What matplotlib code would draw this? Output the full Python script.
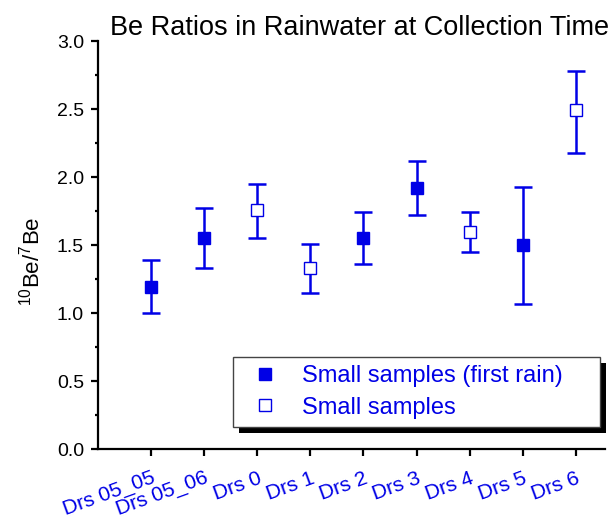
import numpy as np
import matplotlib
matplotlib.use("Agg")
import matplotlib.pyplot as plt
import matplotlib.patheffects as pe
from matplotlib.ticker import MultipleLocator, FormatStrFormatter

plt.rcParams['font.family'] = ['Liberation Sans', 'DejaVu Sans']
plt.rcParams['mathtext.fontset'] = 'custom'
plt.rcParams['mathtext.rm'] = 'Liberation Sans'

# Data
labels = ["Drs 05_05", "Drs 05_06", "Drs 0", "Drs 1", "Drs 2",
          "Drs 3", "Drs 4", "Drs 5", "Drs 6"]
ratio = [1.19, 1.555, 1.755, 1.33, 1.555, 1.92, 1.595, 1.50, 2.49]
err_low = [1.0, 1.33, 1.55, 1.145, 1.36, 1.72, 1.445, 1.065, 2.18]
err_high = [1.39, 1.775, 1.945, 1.505, 1.74, 2.12, 1.74, 1.925, 2.78]
first_rain = [True, True, False, False, True, True, False, True, False]

blue = "#0000e6"

fig = plt.figure(figsize=(6.14, 5.24), dpi=100)
ax = fig.add_axes([98 / 614, 75 / 524, 507 / 614, 408 / 524])

x = np.arange(1, len(labels) + 1)
ratio = np.array(ratio)
lo = ratio - np.array(err_low)
hi = np.array(err_high) - ratio
mask = np.array(first_rain)

ax.errorbar(x, ratio, yerr=[lo, hi], fmt="none", ecolor=blue,
            elinewidth=1.8, capsize=6.5, capthick=1.8, zorder=2)
ax.plot(x[mask], ratio[mask], "s", color=blue, markersize=8,
        markeredgecolor=blue, linestyle="none", zorder=3,
        label="Small samples (first rain)")
ax.plot(x[~mask], ratio[~mask], "s", markerfacecolor="white", markersize=8,
        markeredgecolor=blue, markeredgewidth=1.0, linestyle="none", zorder=3,
        label="Small samples")

ax.set_xlim(0, 9.55)
ax.set_ylim(0, 3.0)
ax.yaxis.set_major_locator(MultipleLocator(0.5))
ax.yaxis.set_minor_locator(MultipleLocator(0.25))
ax.yaxis.set_major_formatter(FormatStrFormatter("%.1f"))
ax.set_xticks(x)
ax.set_xticklabels(labels, rotation=20, ha="right", rotation_mode="anchor",
                   color=blue, fontsize=15)

for s in ["top", "right"]:
    ax.spines[s].set_visible(False)
for s in ["left", "bottom"]:
    ax.spines[s].set_linewidth(1.6)

ax.tick_params(axis="y", which="major", length=5, width=1.6, labelsize=14, pad=5)
ax.tick_params(axis="y", which="minor", length=2.5, width=1.6)
ax.tick_params(axis="x", which="major", length=5, width=1.6, pad=9)

ax.set_ylabel(r"$^{10}$Be/$^{7}$Be", fontsize=16)
ax.yaxis.set_label_coords(-0.105, 0.46)
ax.set_title("Be Ratios in Rainwater at Collection Time", fontsize=19.5,
             pad=2, x=0.515)

leg = ax.legend(loc="upper left",
                bbox_to_anchor=(233 / 614, 1 - 428 / 524, 367 / 614, 71 / 524),
                bbox_transform=fig.transFigure, mode="expand",
                fontsize=17, frameon=True, fancybox=False,
                handletextpad=0.57, borderpad=0.35, labelspacing=0.4,
                borderaxespad=0, handlelength=2.0, markerscale=1.1)
for t in leg.get_texts():
    t.set_color(blue)
frame = leg.get_frame()
frame.set_edgecolor("#444444")
frame.set_linewidth(1.0)
frame.set_alpha(1)
frame.set_path_effects([pe.SimplePatchShadow(offset=(4.5, -4), shadow_rgbFace="black", alpha=1),
                        pe.Normal()])

fig.savefig("out.png", dpi=100)
